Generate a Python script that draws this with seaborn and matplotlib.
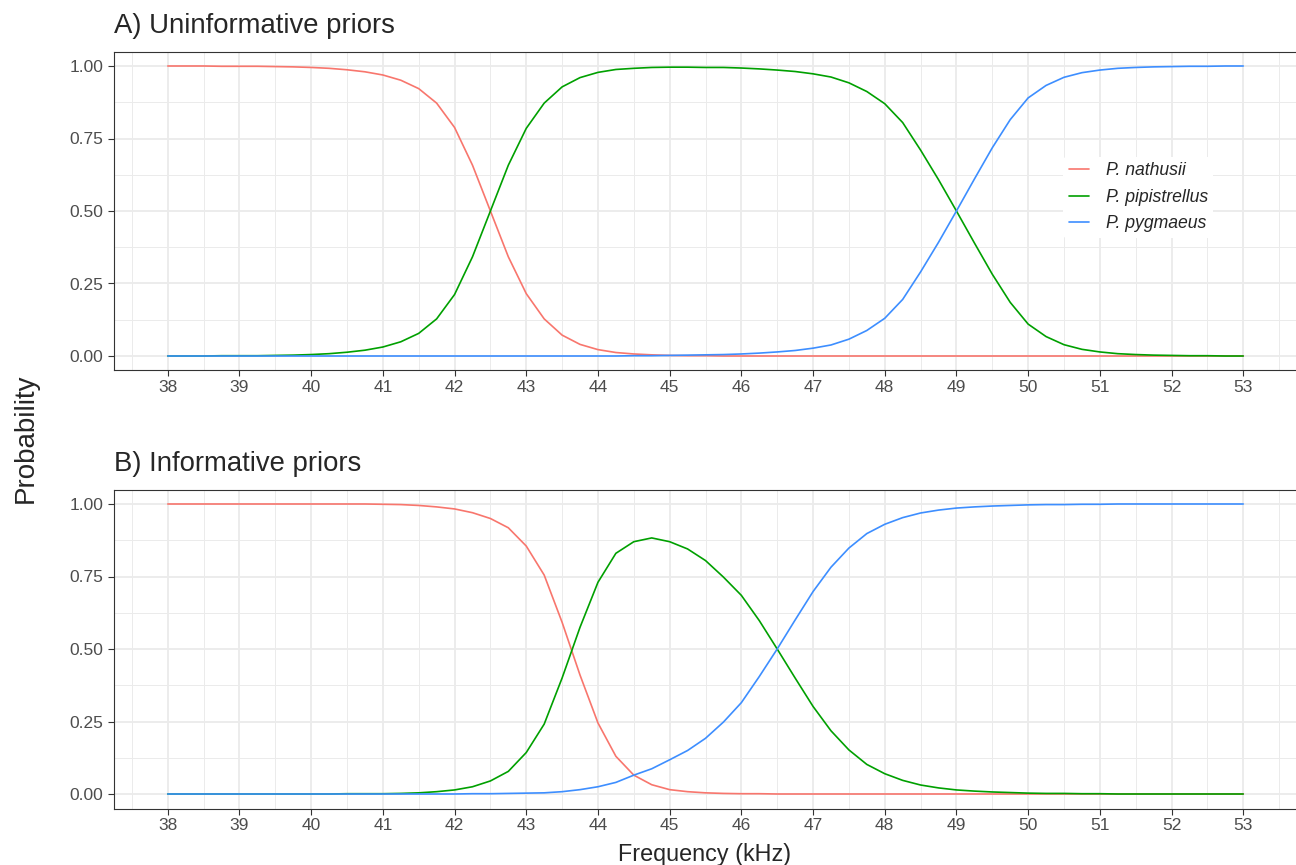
import numpy as np
import pandas as pd
import seaborn as sns
import matplotlib
matplotlib.use("Agg")
import matplotlib.pyplot as plt
from matplotlib.ticker import MultipleLocator

# frequency grid (kHz), 0.25 steps from 38 to 53
freq = np.linspace(38, 53, 61)

species = ["P. nathusii", "P. pipistrellus", "P. pygmaeus"]
colours = ["#F8766D", "#00A000", "#3D8EFF"]

# A) uninformative priors -- one row per kHz (x.00, x.25, x.50, x.75)
nathusii_a = [
    1.000, 1.000, 1.000, 0.999,
    0.999, 0.999, 0.998, 0.997,
    0.995, 0.992, 0.987, 0.980,
    0.969, 0.951, 0.922, 0.872,
    0.788, 0.658, 0.500, 0.342,
    0.215, 0.128, 0.072, 0.040,
    0.022, 0.012, 0.007, 0.004,
    0.002, 0.001, 0.001, 0.000,
    0.000, 0.000, 0.000, 0.000,
    0.000, 0.000, 0.000, 0.000,
    0.000, 0.000, 0.000, 0.000,
    0.000, 0.000, 0.000, 0.000,
    0.000, 0.000, 0.000, 0.000,
    0.000, 0.000, 0.000, 0.000,
    0.000, 0.000, 0.000, 0.000,
    0.000]
pipistrellus_a = [
    0.000, 0.000, 0.000, 0.001,
    0.001, 0.001, 0.002, 0.003,
    0.005, 0.008, 0.013, 0.020,
    0.031, 0.049, 0.078, 0.128,
    0.212, 0.342, 0.500, 0.658,
    0.785, 0.872, 0.928, 0.960,
    0.978, 0.988, 0.992, 0.995,
    0.996, 0.996, 0.995, 0.995,
    0.993, 0.990, 0.986, 0.981,
    0.973, 0.962, 0.942, 0.912,
    0.870, 0.805, 0.710, 0.608,
    0.500, 0.390, 0.282, 0.185,
    0.110, 0.067, 0.039, 0.023,
    0.014, 0.008, 0.005, 0.003,
    0.002, 0.001, 0.001, 0.000,
    0.000]
pygmaeus_a = [
    0.000, 0.000, 0.000, 0.000,
    0.000, 0.000, 0.000, 0.000,
    0.000, 0.000, 0.000, 0.000,
    0.000, 0.000, 0.000, 0.000,
    0.000, 0.000, 0.000, 0.000,
    0.000, 0.000, 0.000, 0.000,
    0.000, 0.000, 0.001, 0.001,
    0.002, 0.003, 0.004, 0.005,
    0.007, 0.010, 0.014, 0.019,
    0.027, 0.038, 0.058, 0.088,
    0.130, 0.195, 0.290, 0.392,
    0.500, 0.610, 0.718, 0.815,
    0.890, 0.933, 0.961, 0.977,
    0.986, 0.992, 0.995, 0.997,
    0.998, 0.999, 0.999, 1.000,
    1.000]

# B) informative priors
nathusii_b = [
    1.000, 1.000, 1.000, 1.000,
    1.000, 1.000, 1.000, 1.000,
    1.000, 1.000, 1.000, 1.000,
    0.999, 0.998, 0.995, 0.990,
    0.983, 0.970, 0.950, 0.918,
    0.855, 0.755, 0.592, 0.410,
    0.245, 0.130, 0.065, 0.032,
    0.015, 0.008, 0.004, 0.002,
    0.001, 0.001, 0.000, 0.000,
    0.000, 0.000, 0.000, 0.000,
    0.000, 0.000, 0.000, 0.000,
    0.000, 0.000, 0.000, 0.000,
    0.000, 0.000, 0.000, 0.000,
    0.000, 0.000, 0.000, 0.000,
    0.000, 0.000, 0.000, 0.000,
    0.000]
pipistrellus_b = [
    0.000, 0.000, 0.000, 0.000,
    0.000, 0.000, 0.000, 0.000,
    0.000, 0.000, 0.001, 0.001,
    0.001, 0.002, 0.004, 0.008,
    0.014, 0.025, 0.045, 0.078,
    0.143, 0.241, 0.400, 0.575,
    0.730, 0.830, 0.870, 0.883,
    0.870, 0.845, 0.805, 0.748,
    0.685, 0.598, 0.500, 0.400,
    0.302, 0.218, 0.152, 0.102,
    0.070, 0.047, 0.031, 0.021,
    0.014, 0.010, 0.007, 0.005,
    0.003, 0.002, 0.002, 0.001,
    0.001, 0.000, 0.000, 0.000,
    0.000, 0.000, 0.000, 0.000,
    0.000]
pygmaeus_b = [
    0.000, 0.000, 0.000, 0.000,
    0.000, 0.000, 0.000, 0.000,
    0.000, 0.000, 0.000, 0.000,
    0.000, 0.000, 0.000, 0.000,
    0.000, 0.001, 0.001, 0.002,
    0.003, 0.004, 0.008, 0.015,
    0.025, 0.040, 0.065, 0.087,
    0.118, 0.150, 0.192, 0.248,
    0.315, 0.405, 0.500, 0.600,
    0.698, 0.782, 0.848, 0.898,
    0.930, 0.953, 0.969, 0.979,
    0.986, 0.990, 0.993, 0.995,
    0.997, 0.998, 0.998, 0.999,
    0.999, 1.000, 1.000, 1.000,
    1.000, 1.000, 1.000, 1.000,
    1.000]

x_ticks = list(range(38, 54))
y_ticks = [0, 0.25, 0.5, 0.75, 1.0]
y_labels = ["0.00", "0.25", "0.50", "0.75", "1.00"]
titles = ["A) Uninformative priors", "B) Informative priors"]


def long_frame(series):
    parts = []
    for name, vals in zip(species, series):
        parts.append(pd.DataFrame({"freq": freq, "prob": vals, "species": name}))
    return pd.concat(parts, ignore_index=True)


df_a = long_frame([nathusii_a, pipistrellus_a, pygmaeus_a])
df_b = long_frame([nathusii_b, pipistrellus_b, pygmaeus_b])

sns.set_style("white")
plt.rcParams["font.family"] = ["Liberation Sans", "DejaVu Sans"]

W, H = 1296, 865
fig = plt.figure(figsize=(W / 100, H / 100), dpi=100)
left = 114 / W
width = (1297 - 114) / W
ax_a = fig.add_axes([left, 1 - 370.5 / H, width, 319 / H])
ax_b = fig.add_axes([left, 1 - 808.5 / H, width, 319 / H])

pal = dict(zip(species, colours))
for ax, df, title in zip([ax_a, ax_b], [df_a, df_b], titles):
    sns.lineplot(data=df, x="freq", y="prob", hue="species", hue_order=species,
                 palette=pal, linewidth=1.2, solid_joinstyle="round",
                 ax=ax, legend=(ax is ax_a))
    ax.set_xlim(37.25, 53.75)
    ax.set_ylim(-0.05, 1.05)
    ax.set_xticks(x_ticks)
    ax.set_xticklabels([str(t) for t in x_ticks])
    ax.set_yticks(y_ticks)
    ax.set_yticklabels(y_labels)
    ax.xaxis.set_minor_locator(MultipleLocator(0.5))
    ax.yaxis.set_minor_locator(MultipleLocator(0.125))
    ax.grid(which="major", color="#EBEBEB", linewidth=1.3)
    ax.grid(which="minor", color="#EBEBEB", linewidth=0.7)
    ax.set_axisbelow(True)
    ax.tick_params(which="major", bottom=True, left=True, length=4.3, width=0.8,
                   color="#333333", labelsize=12.5, labelcolor="#4D4D4D")
    ax.tick_params(axis="x", pad=2.5)
    ax.tick_params(axis="y", pad=3.5)
    ax.tick_params(which="minor", bottom=False, left=False, length=0)
    for s in ax.spines.values():
        s.set_color("#333333")
        s.set_linewidth(0.8)
    ax.set_xlabel("")
    ax.set_ylabel("")
    ax.set_title(title, loc="left", fontsize=19.8, pad=13)

handles, labels = ax_a.get_legend_handles_labels()
leg = ax_a.legend(handles, labels, loc="center left", bbox_to_anchor=(0.795, 0.543),
                  frameon=True, facecolor="white", edgecolor="none", framealpha=1,
                  prop={"style": "italic", "size": 12.7}, handlelength=1.15,
                  handletextpad=0.95, labelspacing=0.55, borderpad=0.3)

fig.text(25.5 / W, 0.4933, "Probability", rotation=90, ha="center", va="center",
         fontsize=20)
fig.text(705 / W, 1 - 860.7 / H, "Frequency (kHz)", ha="center", va="baseline",
         fontsize=16.8)

fig.savefig("out.png", dpi=100)
